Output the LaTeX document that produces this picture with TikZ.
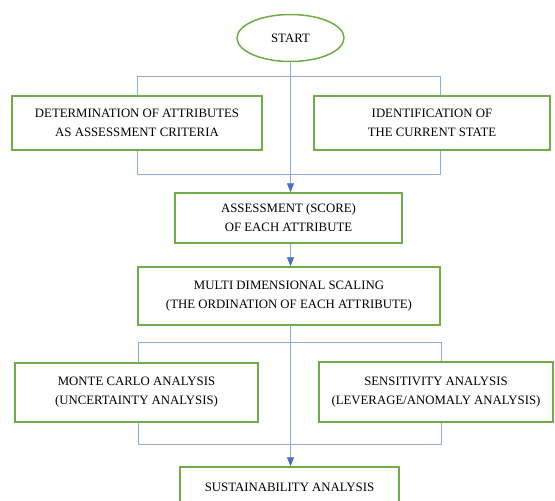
\documentclass[tikz,border=0pt]{standalone}
\usepackage{fontspec}
\setmainfont{Liberation Serif}
\usetikzlibrary{shapes.geometric,arrows.meta}
\definecolor{boxgreen}{HTML}{70AD47}
\definecolor{linkblue}{HTML}{8FAADC}
\definecolor{tipblue}{HTML}{4472C4}
\tikzset{
  stepbox/.style={draw=boxgreen, line width=1.5pt, fill=white, align=center, inner sep=0pt, font=\fontsize{12.8}{19}\selectfont},
  link/.style={draw=linkblue, line width=0.8pt},
  arrowlink/.style={link, -{Triangle[width=7pt,length=9pt,fill=tipblue,color=tipblue]}}
}
\begin{document}
\begin{tikzpicture}[x=1pt,y=-1pt]
\useasboundingbox (0,0) rectangle (555,501);
\begin{scope}
\clip (0,0) rectangle (555,501);
\node[stepbox, ellipse, minimum width=107, minimum height=47] (start) at (290.5,38) {START};
\node[stepbox, minimum width=250, minimum height=54] (det) at (137,123) {DETERMINATION OF ATTRIBUTES\\AS ASSESSMENT CRITERIA};
\node[stepbox, minimum width=236, minimum height=54] (ident) at (432,123) {IDENTIFICATION OF\\THE CURRENT STATE};
\node[stepbox, minimum width=227, minimum height=50] (assess) at (288.5,218) {ASSESSMENT (SCORE)\\OF EACH ATTRIBUTE};
\node[stepbox, minimum width=302, minimum height=58] (mds) at (289,296) {MULTI DIMENSIONAL SCALING\\(THE ORDINATION OF EACH ATTRIBUTE)};
\node[stepbox, minimum width=243, minimum height=59] (mc) at (136.5,392.5) {MONTE CARLO ANALYSIS\\(UNCERTAINTY ANALYSIS)};
\node[stepbox, minimum width=234, minimum height=60] (sens) at (436,392) {SENSITIVITY ANALYSIS\\(LEVERAGE/ANOMALY ANALYSIS)};
\node[stepbox, minimum width=219, minimum height=40, text depth=0pt] (sust) at (289.5,487) {SUSTAINABILITY ANALYSIS};

\coordinate (a1) at (137,76);
\coordinate (a2) at (440,76);
\coordinate (b1) at (137,174);
\coordinate (b2) at (440,174);
\coordinate (c1) at (138,342);
\coordinate (c2) at (441,342);
\coordinate (d1) at (138,444);
\coordinate (d2) at (441,444);

\draw[link] (a1 |- det.north) -- (a1) -- (a2) -- (a2 |- ident.north);
\draw[link] (b1 |- det.south) -- (b1) -- (b2) -- (b2 |- ident.south);
\draw[arrowlink] (start.south) -- (start.south |- assess.north);
\draw[arrowlink] (assess.south -| start.south) -- (start.south |- mds.north);
\draw[link] (c1 |- mc.north) -- (c1) -- (c2) -- (c2 |- sens.north);
\draw[link] (d1 |- mc.south) -- (d1) -- (d2) -- (d2 |- sens.south);
\draw[arrowlink] (mds.south -| start.south) -- (start.south |- sust.north);
\end{scope}
\end{tikzpicture}
\end{document}
